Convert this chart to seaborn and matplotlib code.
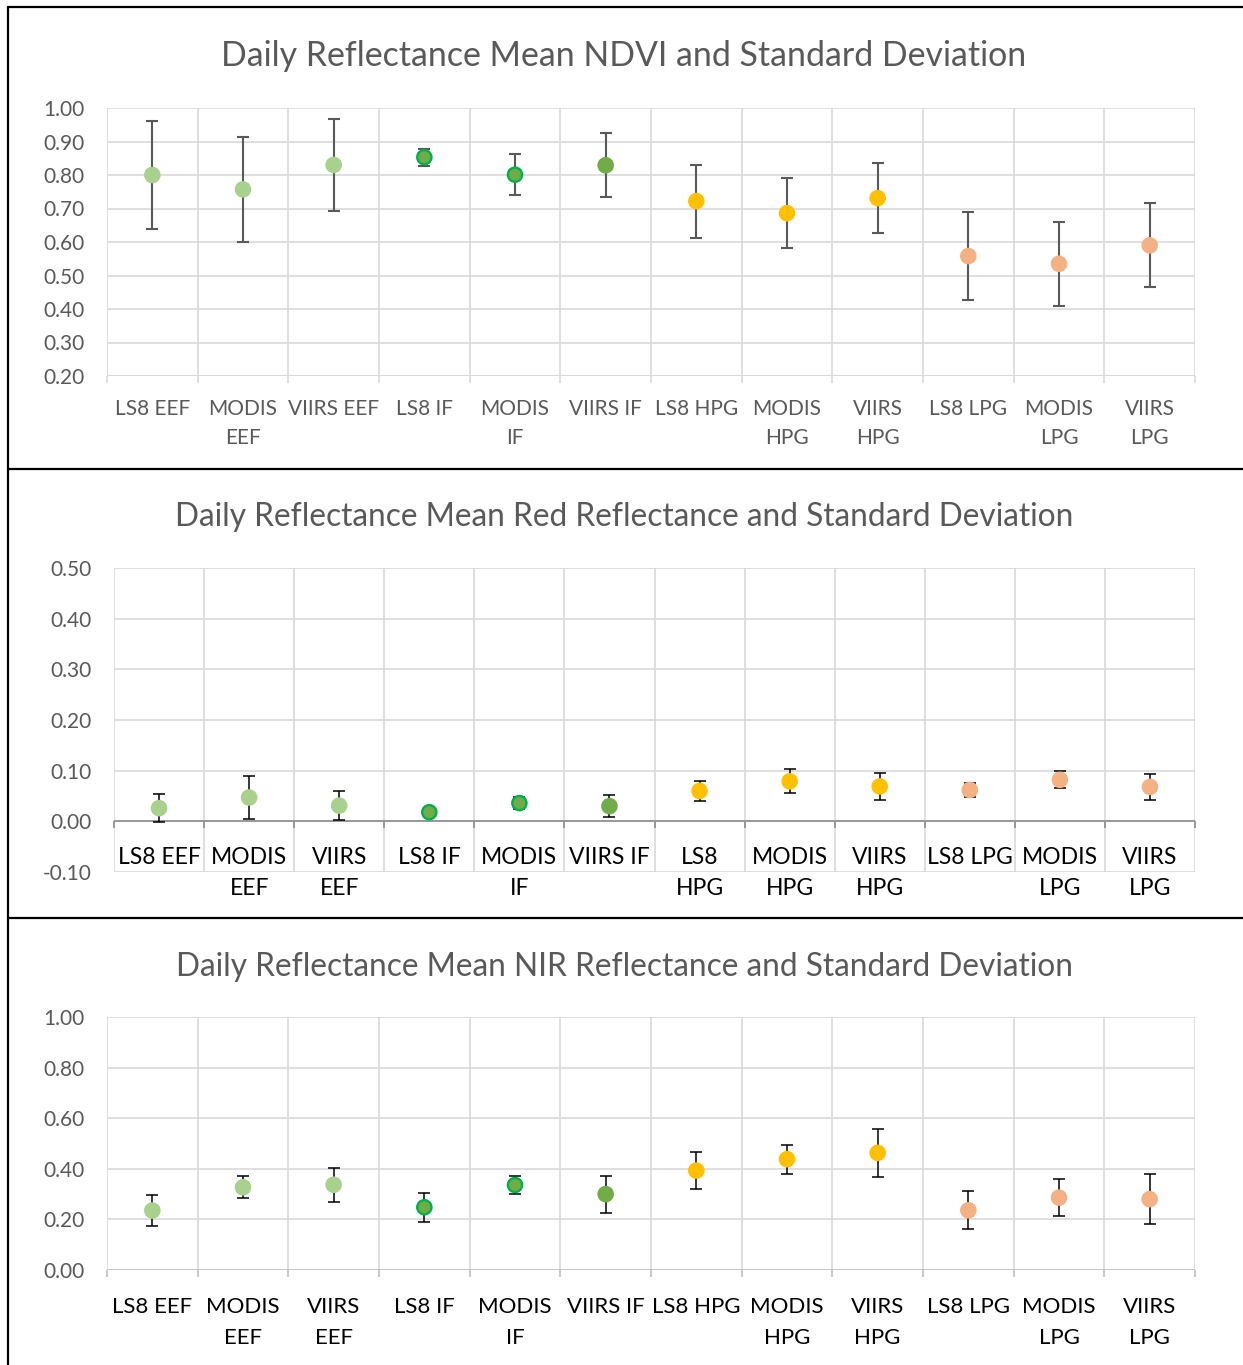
import matplotlib
matplotlib.use("Agg")
import matplotlib.pyplot as plt
from matplotlib.lines import Line2D
import seaborn as sns
import pandas as pd

# ---- data ----
categories = ["LS8 EEF", "MODIS EEF", "VIIRS EEF", "LS8 IF", "MODIS IF", "VIIRS IF",
              "LS8 HPG", "MODIS HPG", "VIIRS HPG", "LS8 LPG", "MODIS LPG", "VIIRS LPG"]

ndvi_mean = [0.80, 0.757, 0.830, 0.853, 0.801, 0.829, 0.722, 0.686, 0.731, 0.558, 0.535, 0.590]
ndvi_sd   = [0.160, 0.156, 0.137, 0.026, 0.062, 0.095, 0.109, 0.105, 0.104, 0.131, 0.125, 0.125]

red_mean = [0.026, 0.047, 0.031, 0.018, 0.036, 0.030, 0.060, 0.079, 0.069, 0.062, 0.082, 0.068]
red_sd   = [0.027, 0.043, 0.029, 0.002, 0.012, 0.021, 0.019, 0.024, 0.026, 0.014, 0.017, 0.025]

nir_mean = [0.235, 0.327, 0.337, 0.248, 0.336, 0.300, 0.393, 0.438, 0.463, 0.236, 0.286, 0.280]
nir_sd   = [0.060, 0.044, 0.068, 0.058, 0.037, 0.073, 0.072, 0.057, 0.094, 0.075, 0.074, 0.098]

labels_ndvi = ["LS8 EEF", "MODIS\nEEF", "VIIRS EEF", "LS8 IF", "MODIS\nIF", "VIIRS IF",
               "LS8 HPG", "MODIS\nHPG", "VIIRS\nHPG", "LS8 LPG", "MODIS\nLPG", "VIIRS\nLPG"]
labels_red = ["LS8 EEF", "MODIS\nEEF", "VIIRS\nEEF", "LS8 IF", "MODIS\nIF", "VIIRS IF",
              "LS8\nHPG", "MODIS\nHPG", "VIIRS\nHPG", "LS8 LPG", "MODIS\nLPG", "VIIRS\nLPG"]
labels_nir = ["LS8 EEF", "MODIS\nEEF", "VIIRS\nEEF", "LS8 IF", "MODIS\nIF", "VIIRS IF",
              "LS8 HPG", "MODIS\nHPG", "VIIRS\nHPG", "LS8 LPG", "MODIS\nLPG", "VIIRS\nLPG"]

fill_colors = ["#A9D18E", "#A9D18E", "#A9D18E", "#70AD47", "#70AD47", "#70AD47",
               "#FFC000", "#FFC000", "#FFC000", "#F4B183", "#F4B183", "#F4B183"]
edge_colors = ["#A9D18E", "#A9D18E", "#A9D18E", "#00B050", "#00B050", "#70AD47",
               "#FFC000", "#FFC000", "#FFC000", "#F4B183", "#F4B183", "#F4B183"]

# ---- style ----
sns.set_theme(style="white")
plt.rcParams["font.family"] = ["Lato", "DejaVu Sans"]

W, H = 1243, 1365
fig = plt.figure(figsize=(W / 100, H / 100), dpi=100)
fig.patch.set_facecolor("white")

GRID = "#D9D9D9"
TXT = "#595959"


def rect(l, t, r, b):
    return [l / W, 1 - b / H, (r - l) / W, (b - t) / H]


def panel(box, mean, sd, ylim, step, labels, title, title_y, title_size,
          err_color, err_lw, label_color, label_size, label_y, label_ls,
          zero_axis, tick_color):
    ax = fig.add_axes(rect(*box))
    df = pd.DataFrame({"cat": categories, "mean": mean, "sd": sd})
    ax.set_xlim(-0.5, len(categories) - 0.5)
    ax.set_ylim(*ylim)
    for s in ax.spines.values():
        s.set_visible(False)

    # grid: horizontal at every step, vertical at category boundaries
    n = int(round((ylim[1] - ylim[0]) / step))
    yt = [round(ylim[0] + i * step, 2) for i in range(n + 1)]
    for y in yt:
        ax.axhline(y, color=GRID, lw=1.2, zorder=0)
    bounds = [i - 0.5 for i in range(len(categories) + 1)]
    for xb in bounds:
        ax.axvline(xb, color=GRID, lw=1.2, zorder=0)

    ax.set_yticks(yt)
    ax.set_yticklabels([f"{v:.2f}" for v in yt], color=TXT, fontsize=15)
    ax.tick_params(axis="y", length=0, pad=16)
    ax.set_xticks([])

    # category axis line with small downward ticks
    base = 0.0 if zero_axis else ylim[0]
    ax.axhline(base, color=tick_color, lw=1.2, zorder=1)
    tick_len = (ylim[1] - ylim[0]) * 7 / (box[3] - box[1])
    ax.vlines(bounds, base - tick_len, base, color=tick_color, lw=1.2,
              zorder=1, clip_on=False)

    ax.errorbar(range(len(categories)), df["mean"], yerr=df["sd"], fmt="none",
                ecolor=err_color, elinewidth=err_lw, capsize=4.2, capthick=err_lw,
                zorder=2)
    sns.scatterplot(data=df, x="cat", y="mean", hue="cat",
                    palette=dict(zip(categories, fill_colors)), s=105,
                    legend=False, ax=ax, zorder=3, linewidth=1.7)
    ax.collections[-1].set_edgecolor(edge_colors)
    ax.set_xlabel("")
    ax.set_ylabel("")
    ax.set_xlim(-0.5, len(categories) - 0.5)

    tr = matplotlib.transforms.blended_transform_factory(ax.transData, fig.transFigure)
    for i, lab in enumerate(labels):
        ax.text(i, 1 - label_y / H, lab, transform=tr, ha="center", va="top",
                fontsize=label_size, color=label_color, linespacing=label_ls)

    fig.text(624 / W, 1 - title_y / H, title, ha="center", va="center",
             fontsize=title_size, color=TXT)
    return ax


panel((107, 108, 1195, 376), ndvi_mean, ndvi_sd, (0.2, 1.0), 0.1, labels_ndvi,
      "Daily Reflectance Mean NDVI and Standard Deviation", 56, 24.4,
      "#595959", 1.5, TXT, 15, 399, 1.56, False, GRID)
panel((114, 568, 1195, 872), red_mean, red_sd, (-0.1, 0.5), 0.1, labels_red,
      "Daily Reflectance Mean Red Reflectance and Standard Deviation", 517, 22.8,
      "black", 1.1, "black", 16.5, 847, 1.6, True, "#8C8C8C")
panel((107, 1017, 1195, 1270), nir_mean, nir_sd, (0.0, 1.0), 0.2, labels_nir,
      "Daily Reflectance Mean NIR Reflectance and Standard Deviation", 967, 22.8,
      "black", 1.1, "black", 16, 1297, 1.67, False, "#BFBFBF")

# frame lines separating the three charts
for y in (7, 469, 918):
    fig.add_artist(Line2D([8 / W, 1], [1 - y / H, 1 - y / H], color="black", lw=1.6))
fig.add_artist(Line2D([8 / W, 8 / W], [1 - 7 / H, 0], color="black", lw=1.6))

fig.savefig("out.png", dpi=100, facecolor="white")
